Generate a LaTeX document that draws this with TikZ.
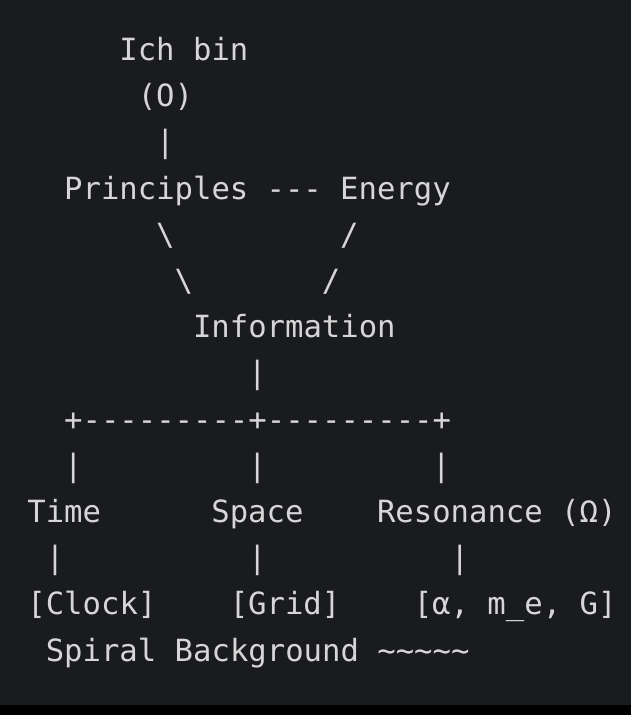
\documentclass[tikz,border=0pt]{standalone}
\usepackage{fontspec}
\setmonofont{DejaVu Sans Mono}
\definecolor{bgdark}{HTML}{1A1B1F}
\definecolor{bgblack}{HTML}{000000}
\definecolor{txt}{HTML}{D6D6D6}
\begin{document}
\begin{tikzpicture}[x=1pt,y=-1pt,
  tok/.style={anchor=base west,inner sep=0pt,outer sep=0pt,text=txt,
    font=\ttfamily\fontsize{30.6}{36}\selectfont}]
\fill[bgdark] (0,0) rectangle (631,704.5);
\fill[bgblack] (0,704.5) rectangle (631,715);
\useasboundingbox (0,0) rectangle (631,715);
\def\cw{18.4}\def\lh{46.2}\def\mx{9}\def\my{60.5}
% line 0-3
\node[tok] (ich)  at ({\mx+6*\cw},{\my+0*\lh}) {Ich bin};
\node[tok] (o)    at ({\mx+7*\cw},{\my+1*\lh}) {(O)};
\node[tok] (c1)   at ({\mx+8*\cw},{\my+2*\lh}) {|};
\node[tok] (prin) at ({\mx+3*\cw},{\my+3*\lh}) {Principles};
\node[tok] (c2)   at ({\mx+14*\cw},{\my+3*\lh}) {---};
\node[tok] (ener) at ({\mx+18*\cw},{\my+3*\lh}) {Energy};
% diagonals
\node[tok] (c3)   at ({\mx+8*\cw},{\my+4*\lh}) {\textbackslash};
\node[tok] (c4)   at ({\mx+18*\cw},{\my+4*\lh}) {/};
\node[tok] (c5)   at ({\mx+9*\cw},{\my+5*\lh}) {\textbackslash};
\node[tok] (c6)   at ({\mx+17*\cw},{\my+5*\lh}) {/};
\node[tok] (info) at ({\mx+10*\cw},{\my+6*\lh}) {Information};
\node[tok] (c7)   at ({\mx+13*\cw},{\my+7*\lh}) {|};
\node[tok] (c8)   at ({\mx+3*\cw},{\my+8*\lh}) {+---------+---------+};
\node[tok] (c9)   at ({\mx+3*\cw},{\my+9*\lh}) {|};
\node[tok] (c10)  at ({\mx+13*\cw},{\my+9*\lh}) {|};
\node[tok] (c11)  at ({\mx+23*\cw},{\my+9*\lh}) {|};
\node[tok] (time) at ({\mx+1*\cw},{\my+10*\lh}) {Time};
\node[tok] (space) at ({\mx+11*\cw},{\my+10*\lh}) {Space};
\node[tok] (res)  at ({\mx+20*\cw},{\my+10*\lh}) {Resonance (Ω)};
\node[tok] (c12)  at ({\mx+2*\cw},{\my+11*\lh}) {|};
\node[tok] (c13)  at ({\mx+13*\cw},{\my+11*\lh}) {|};
\node[tok] (c14)  at ({\mx+24*\cw},{\my+11*\lh}) {|};
\node[tok] (clock) at ({\mx+1*\cw},{\my+12*\lh}) {[Clock]};
\node[tok] (grid) at ({\mx+12*\cw},{\my+12*\lh}) {[Grid]};
\node[tok] (cons) at ({\mx+22*\cw},{\my+12*\lh}) {[α, m\_e, G]};
\node[tok] (spir) at ({\mx+2*\cw},{\my+13*\lh}) {Spiral Background \textasciitilde\textasciitilde\textasciitilde\textasciitilde\textasciitilde};
\end{tikzpicture}
\end{document}
